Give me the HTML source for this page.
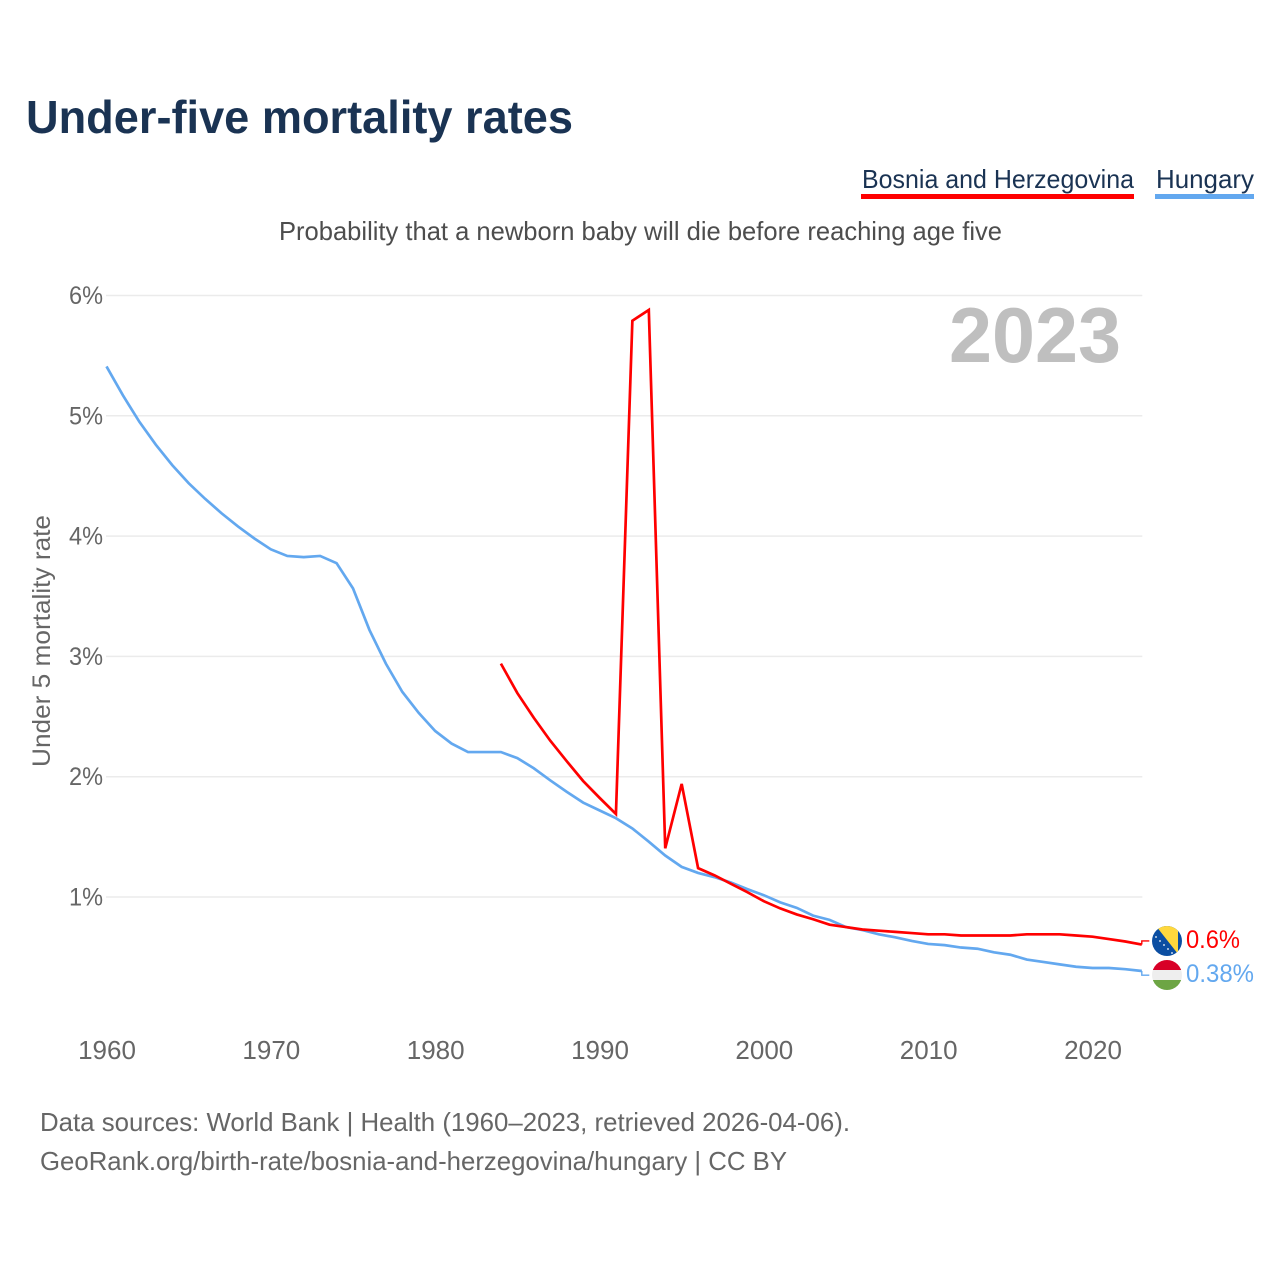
<!DOCTYPE html>
<html lang="en">
<head>
<meta charset="utf-8">
<title>Under-five mortality rates</title>
<style>
  html, body { margin: 0; padding: 0; background: #fff; }
  svg { display: block; font-family: "Liberation Sans", sans-serif; }
</style>
</head>
<body>
<svg id="chart" xmlns="http://www.w3.org/2000/svg" width="1280" height="1280" viewBox="0 0 1280 1280">
  <rect width="1280" height="1280" fill="#ffffff"/>
  <defs>
    <clipPath id="clip-ba"><circle cx="1167" cy="941" r="15"/></clipPath>
    <clipPath id="clip-hu"><circle cx="1167" cy="975" r="15"/></clipPath>
  </defs>

  <text x="26" y="133" font-size="46" font-weight="700" fill="#1a3353" textLength="547" lengthAdjust="spacingAndGlyphs">Under-five mortality rates</text>

  <g>
    <text x="862" y="188" font-size="26" fill="#1a3353" textLength="272" lengthAdjust="spacingAndGlyphs">Bosnia and Herzegovina</text>
    <rect x="861" y="194" width="273" height="5" fill="#ff0000"/>
  </g>
  <g>
    <text x="1156" y="188" font-size="26" fill="#1a3353" textLength="98" lengthAdjust="spacingAndGlyphs">Hungary</text>
    <rect x="1155" y="194" width="99" height="5" fill="#63a8ef"/>
  </g>

  <text x="279" y="240" font-size="26" fill="#4d4d4d" textLength="723" lengthAdjust="spacingAndGlyphs">Probability that a newborn baby will die before reaching age five</text>

  <g id="grid"></g>
  <g id="y-ticks"></g>
  <g id="x-ticks"></g>

  <text transform="translate(50 641) rotate(-90)" text-anchor="middle" font-size="25" fill="#666666" textLength="252" lengthAdjust="spacingAndGlyphs">Under 5 mortality rate</text>

  <text x="949" y="362" font-size="78" font-weight="700" fill="#bfbfbf" textLength="172" lengthAdjust="spacingAndGlyphs">2023</text>

  <g id="series"></g>

  <g clip-path="url(#clip-ba)">
    <rect x="1152" y="926" width="30" height="30" fill="#0b4ea2"/>
    <polygon points="1156,926 1178,926 1178,954" fill="#ffd83d"/>
    <g fill="#ffffff">
      <circle cx="1156" cy="937" r="0.9"/><circle cx="1160" cy="941" r="0.9"/><circle cx="1164" cy="945" r="0.9"/><circle cx="1168" cy="949" r="0.9"/><circle cx="1172" cy="953" r="0.9"/>
    </g>
  </g>
  <g clip-path="url(#clip-hu)">
    <rect x="1152" y="960" width="30" height="10" fill="#d80027"/>
    <rect x="1152" y="970" width="30" height="10" fill="#eeeeee"/>
    <rect x="1152" y="980" width="30" height="10" fill="#6da544"/>
  </g>

  <text x="1186" y="948" font-size="25" fill="#ff0000" textLength="54" lengthAdjust="spacingAndGlyphs">0.6%</text>
  <text x="1186" y="982" font-size="25" fill="#63a8ef" textLength="68" lengthAdjust="spacingAndGlyphs">0.38%</text>

  <text x="40" y="1131" font-size="26" fill="#666666" textLength="810" lengthAdjust="spacingAndGlyphs">Data sources: World Bank | Health (1960–2023, retrieved 2026-04-06).</text>
  <text x="40" y="1170" font-size="26" fill="#666666" textLength="747" lengthAdjust="spacingAndGlyphs">GeoRank.org/birth-rate/bosnia-and-herzegovina/hungary | CC BY</text>
</svg>

<script>
const yTickValues = [1, 2, 3, 4, 5, 6];
const yTickLabels = ["1%", "2%", "3%", "4%", "5%", "6%"];
const xTickValues = [1960, 1970, 1980, 1990, 2000, 2010, 2020];
const xTickLabels = ["1960", "1970", "1980", "1990", "2000", "2010", "2020"];

const hungaryStartYear = 1960;
const hungaryValues = [
  5.41, 5.17, 4.95, 4.76, 4.59, 4.44, 4.31, 4.19, 4.08, 3.98,
  3.89, 3.835, 3.825, 3.835, 3.775, 3.565, 3.22, 2.94, 2.705, 2.53,
  2.38, 2.275, 2.205, 2.205, 2.205, 2.155, 2.07, 1.97, 1.875, 1.785,
  1.72, 1.655, 1.57, 1.46, 1.345, 1.25, 1.20, 1.165, 1.12, 1.065,
  1.015, 0.955, 0.91, 0.845, 0.81, 0.75, 0.725, 0.69, 0.665, 0.635,
  0.61, 0.60, 0.58, 0.57, 0.54, 0.52, 0.48, 0.46, 0.44, 0.42,
  0.41, 0.41, 0.40, 0.385
];

const bosniaStartYear = 1984;
const bosniaValues = [
  2.94, 2.695, 2.49, 2.30, 2.13, 1.965, 1.825, 1.69, 5.79, 5.88,
  1.405, 1.94, 1.24, 1.18, 1.11, 1.04, 0.965, 0.905, 0.855, 0.815,
  0.77, 0.75, 0.73, 0.72, 0.71, 0.70, 0.69, 0.69, 0.68, 0.68,
  0.68, 0.68, 0.69, 0.69, 0.69, 0.68, 0.67, 0.65, 0.63, 0.605
];

const hungaryLabelValue = 0.35;
const bosniaLabelValue = 0.635;

const NS = "http://www.w3.org/2000/svg";
const lastYear = 2023;

function xScale(year) {
  return 106.5 + (year - 1960) * (986 / 60);
}
function yScale(value) {
  return 1017.3 - value * 120.3;
}

function makeEl(tag, parentId) {
  const el = document.createElementNS(NS, tag);
  document.getElementById(parentId).appendChild(el);
  return el;
}

yTickValues.forEach(function (v, i) {
  const line = makeEl("line", "grid");
  
  
  line.setAttribute("x1", xScale(1960) - 0.5);
  line.setAttribute("x2", xScale(lastYear) + 0.5);
  line.setAttribute("y1", yScale(v));
  line.setAttribute("y2", yScale(v));
  line.setAttribute("stroke", "#ebebeb");
  line.setAttribute("stroke-width", "1.5");

  const label = makeEl("text", "y-ticks");
  
  
  label.setAttribute("x", 69);
  label.setAttribute("y", yScale(v) + 8.5);
  label.setAttribute("font-size", "25");
  label.setAttribute("fill", "#666666");
  label.setAttribute("textLength", "34");
  label.setAttribute("lengthAdjust", "spacingAndGlyphs");
  label.textContent = yTickLabels[i];
});

xTickValues.forEach(function (v, i) {
  const label = makeEl("text", "x-ticks");
  
  
  label.setAttribute("x", xScale(v) + 0.5);
  label.setAttribute("y", 1059);
  label.setAttribute("text-anchor", "middle");
  label.setAttribute("font-size", "26");
  label.setAttribute("fill", "#666666");
  label.textContent = xTickLabels[i];
});

function linePoints(startYear, values) {
  return values.map(function (v, i) {
    return xScale(startYear + i).toFixed(2) + "," + yScale(v).toFixed(2);
  }).join(" ");
}

function connectorPoints(lastValue, labelValue) {
  const xEnd = xScale(lastYear);
  return [
    xEnd.toFixed(2) + "," + yScale(lastValue).toFixed(2),
    xEnd.toFixed(2) + "," + yScale(labelValue).toFixed(2),
    (xEnd + 7.5).toFixed(2) + "," + yScale(labelValue).toFixed(2)
  ].join(" ");
}

const hungaryLine = makeEl("polyline", "series");


hungaryLine.setAttribute("points", linePoints(hungaryStartYear, hungaryValues));
hungaryLine.setAttribute("fill", "none");
hungaryLine.setAttribute("stroke", "#63a8ef");
hungaryLine.setAttribute("stroke-width", "2.7");
hungaryLine.setAttribute("stroke-linejoin", "miter");

const bosniaLine = makeEl("polyline", "series");


bosniaLine.setAttribute("points", linePoints(bosniaStartYear, bosniaValues));
bosniaLine.setAttribute("fill", "none");
bosniaLine.setAttribute("stroke", "#ff0000");
bosniaLine.setAttribute("stroke-width", "2.7");
bosniaLine.setAttribute("stroke-linejoin", "miter");

const hungaryConnector = makeEl("polyline", "series");


hungaryConnector.setAttribute("points", connectorPoints(hungaryValues[hungaryValues.length - 1], hungaryLabelValue));
hungaryConnector.setAttribute("fill", "none");
hungaryConnector.setAttribute("stroke", "#63a8ef");
hungaryConnector.setAttribute("stroke-width", "1.4");

const bosniaConnector = makeEl("polyline", "series");


bosniaConnector.setAttribute("points", connectorPoints(bosniaValues[bosniaValues.length - 1], bosniaLabelValue));
bosniaConnector.setAttribute("fill", "none");
bosniaConnector.setAttribute("stroke", "#ff0000");
bosniaConnector.setAttribute("stroke-width", "1.4");
</script>
</body>
</html>
